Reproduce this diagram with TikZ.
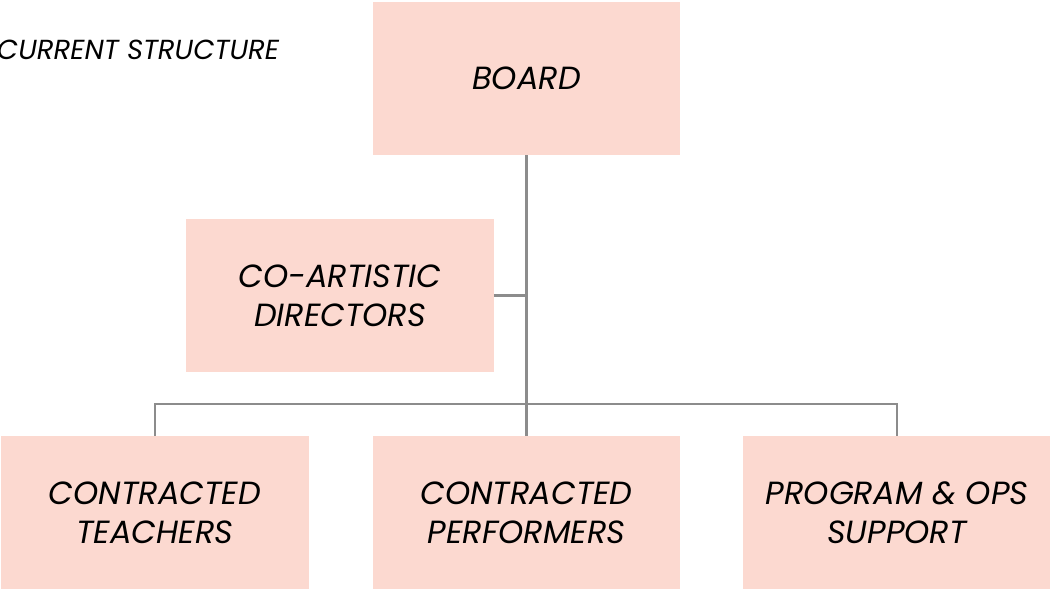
\documentclass[tikz,border=0pt]{standalone}
\usepackage{fontspec}
\setmainfont{Poppins}
\definecolor{boxpink}{HTML}{FCD9D0}
\definecolor{linegray}{HTML}{8C8C8C}

\begin{document}
\begin{tikzpicture}[x=0.025cm,y=-0.025cm,
  unit/.style={fill=boxpink,minimum width=7.675cm,minimum height=3.825cm,
    inner sep=0pt,align=center,font=\itshape\fontsize{22.8}{27.7}\selectfont},
  link/.style={draw=linegray,line width=2pt}]
\clip (0,0) rectangle (1050,589);

% Heading
\node[anchor=east,font=\itshape\fontsize{19.6}{24}\selectfont] (title) at (284,50) {CURRENT STRUCTURE};

% Units
\node[unit] (board) at (526.5,78.5) {BOARD};
\node[unit] (coart) at (340,295.5) {CO-ARTISTIC\\DIRECTORS};
\node[unit] (teachers) at (155,512.5) {CONTRACTED\\TEACHERS};
\node[unit] (performers) at (526.5,512.5) {CONTRACTED\\PERFORMERS};
\node[unit] (support) at (897,512.5) {PROGRAM \& OPS\\SUPPORT};

% Links
\coordinate (hub) at (526.5,404);
\draw[link] (board.south) -- (performers.north);
\draw[link] (coart.east) -- (coart.east -| board.south);
\draw[link] (teachers.north) |- (hub) -| (support.north);
\end{tikzpicture}
\end{document}
